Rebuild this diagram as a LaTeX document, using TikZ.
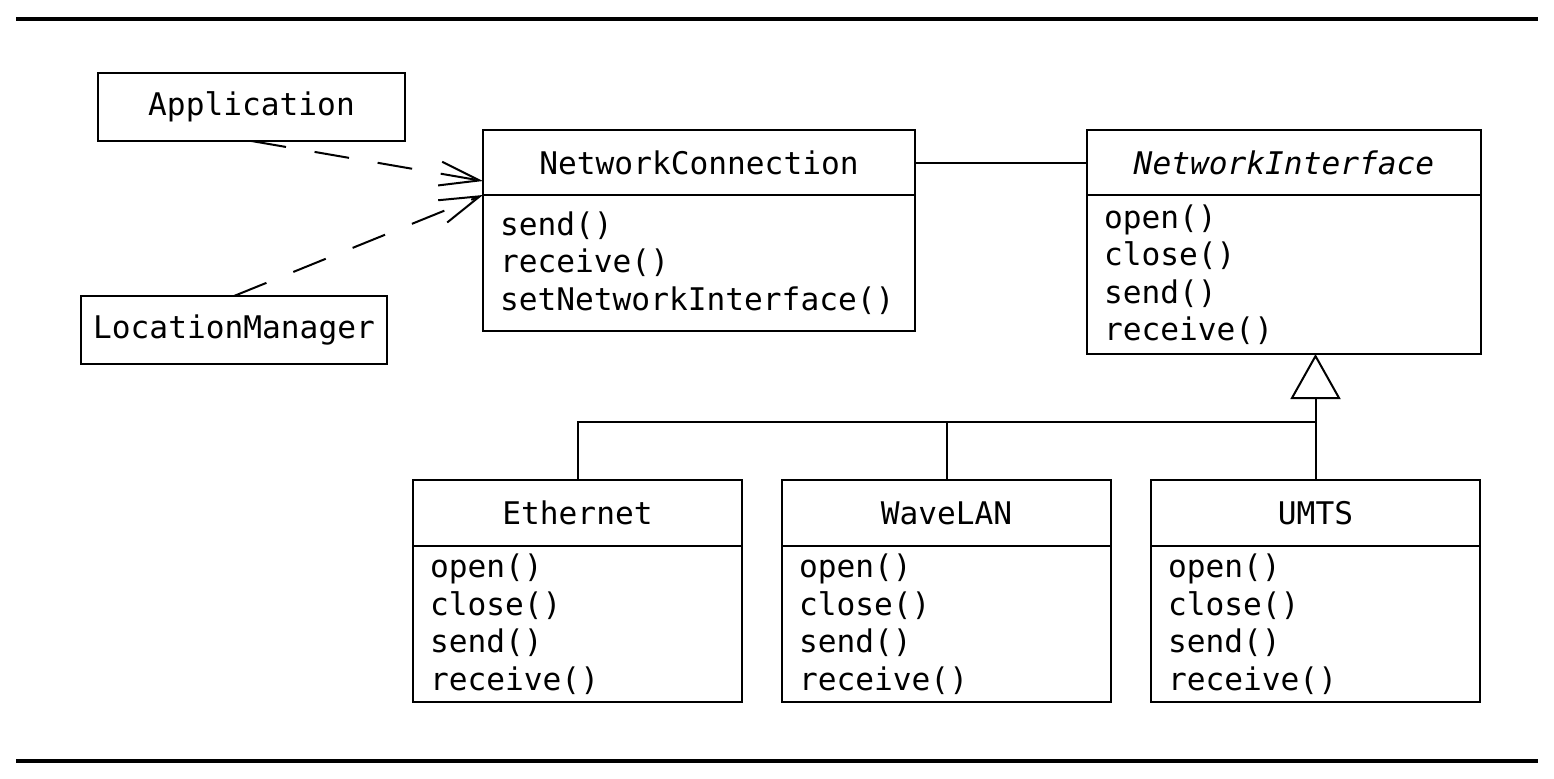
\documentclass[tikz,border=0pt]{standalone}
\usepackage{fontspec}
\newfontfamily\umlfont{DejaVu Sans Mono}
\usetikzlibrary{arrows.meta, positioning}

\begin{document}
\begin{tikzpicture}[
    x=0.5pt, y=-0.5pt,
    every node/.style={font=\umlfont\fontsize{15.6}{18.75}\selectfont},
    plainbox/.style={rectangle, draw, line width=1pt, minimum width=153.5pt, minimum height=34pt, inner sep=0pt, outer sep=0pt},
    classhead/.style={rectangle, draw, line width=1pt, minimum height=32.5pt, inner sep=0pt, outer sep=0pt},
    classbody/.style={rectangle, draw, line width=1pt, align=left, inner xsep=8.5pt, inner ysep=0pt, outer sep=0pt},
    depend/.style={line width=1pt, dash pattern=on 17.5pt off 14.5pt, -{Straight Barb[length=20pt, width=12pt]}},
    inherit/.style={line width=1pt, -{Triangle[open, length=22.5pt, width=25pt]}},
    assoc/.style={line width=1pt},
    rule/.style={line width=2pt}
  ]
  \useasboundingbox (0,0) rectangle (1554,778);

  % Rules
  \draw[rule] (16,19) -- (1538,19);
  \draw[rule] (16,761) -- (1538,761);

  % Clients
  \node[plainbox] (app) at (251.5,107) {Application};
  \node[plainbox, minimum width=153pt] (locman) at (234,330) {LocationManager};

  % Connection and interface
  \node[classhead, minimum width=216pt] (nc-head) at (699,162.5) {NetworkConnection};
  \node[classbody, below=0pt of nc-head, text width=199pt, minimum height=68pt] (nc-body) {send()\\receive()\\setNetworkInterface()};

  \node[classhead, minimum width=197pt] (ni-head) at (1284,162.5) {\itshape NetworkInterface};
  \node[classbody, below=0pt of ni-head, text width=180pt, minimum height=79.5pt] (ni-body) {open()\\close()\\send()\\receive()};

  % Concrete interfaces
  \node[classhead, minimum width=164.5pt, minimum height=33pt] (eth-head) at (577.5,513) {Ethernet};
  \node[classbody, below=0pt of eth-head, text width=147.5pt, minimum height=78pt] (eth-body) {open()\\close()\\send()\\receive()};

  \node[classhead, minimum width=164.5pt, minimum height=33pt] (wave-head) at (946.5,513) {WaveLAN};
  \node[classbody, below=0pt of wave-head, text width=147.5pt, minimum height=78pt] (wave-body) {open()\\close()\\send()\\receive()};

  \node[classhead, minimum width=164.5pt, minimum height=33pt] (umts-head) at (1315.5,513) {UMTS};
  \node[classbody, below=0pt of umts-head, text width=147.5pt, minimum height=78pt] (umts-body) {open()\\close()\\send()\\receive()};

  % Dependencies
  \draw[depend] (app.south) -- ([yshift=7pt]nc-head.south west);
  \draw[depend] (locman.north) -- (nc-head.south west);

  % Association
  \draw[assoc] (nc-head.east) -- (ni-head.west);

  % Generalization
  \path (umts-head.north) ++(0,-58) coordinate (joint);
  \draw[inherit] (umts-head.north) -- (umts-head.north |- ni-body.south);
  \draw[assoc] (eth-head.north) |- (joint);
  \draw[assoc] (wave-head.north) -- (wave-head.north |- joint);

\end{tikzpicture}
\end{document}
